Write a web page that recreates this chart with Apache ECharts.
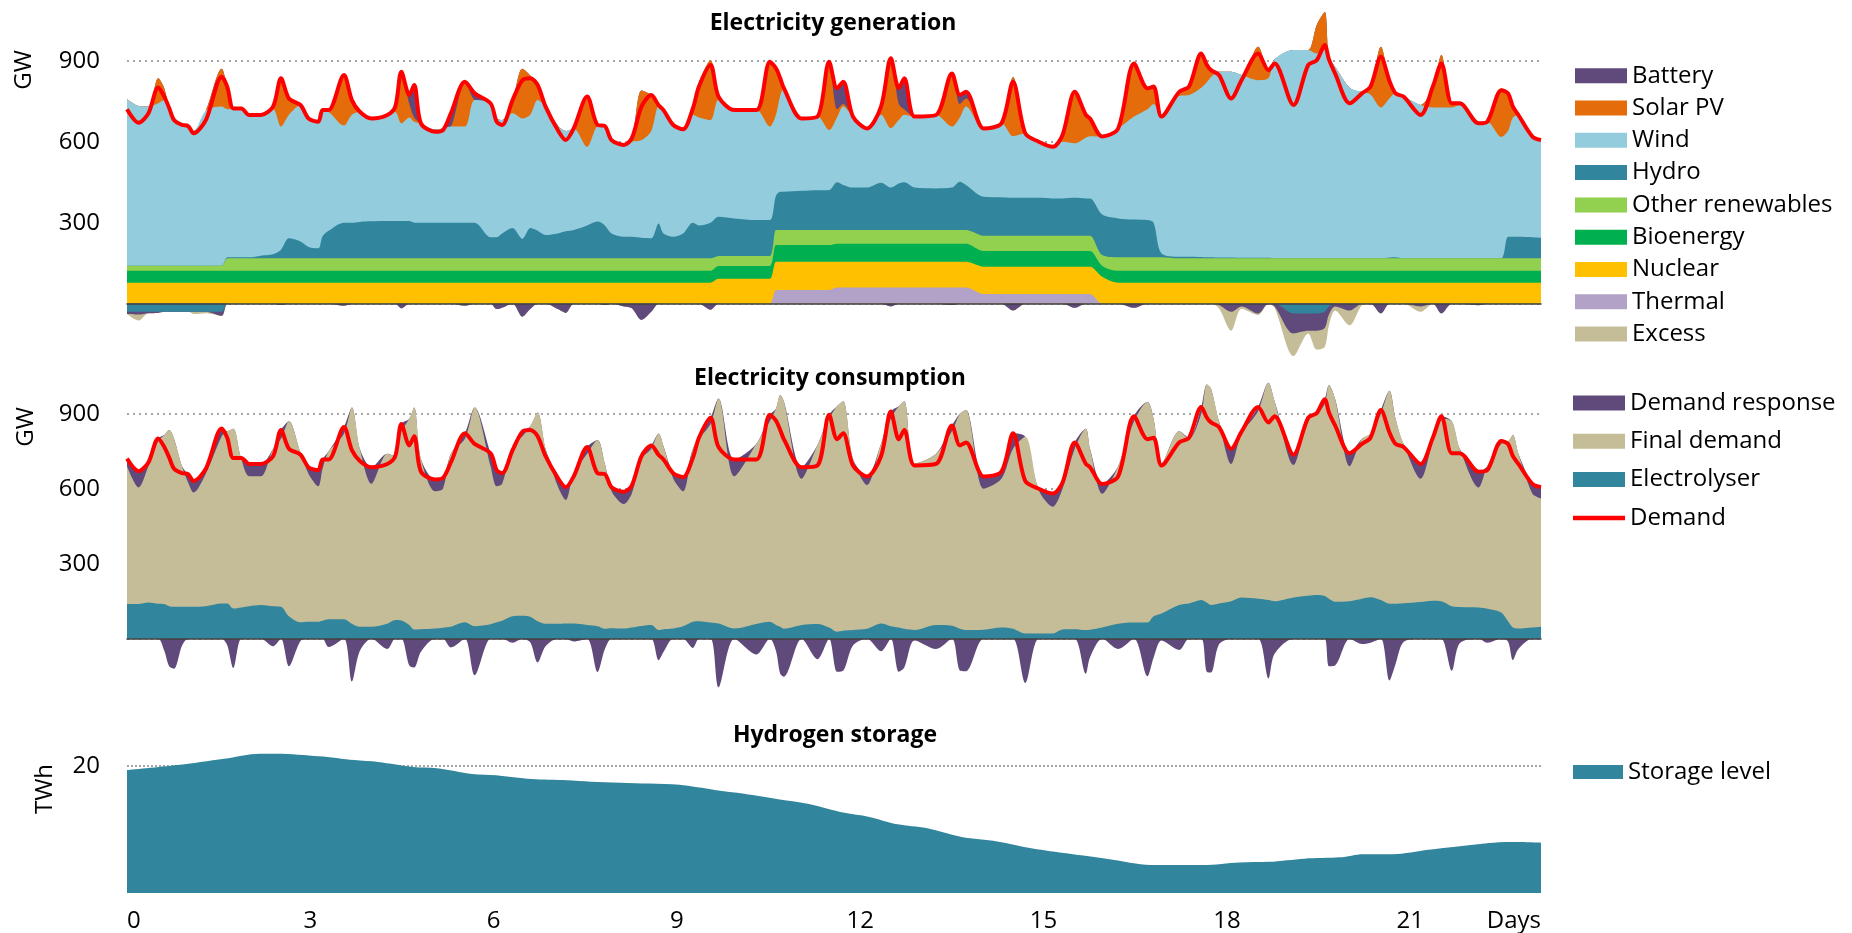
<!DOCTYPE html>
<html>
<head>
<meta charset="utf-8">
<script src="https://cdn.jsdelivr.net/npm/echarts@6/dist/echarts.min.js"></script>
<style>
  html, body { margin: 0; padding: 0; background: #fff; }
  #main { width: 1852px; height: 933px; }
</style>
</head>
<body>
<div id="main"></div>
<script>
// time axis in days, shared by the generation and consumption panels
const days = [
  0,0.19,0.35,0.51,0.61,0.69,0.77,0.9,1,1.09,
  1.29,1.55,1.64,1.74,1.87,2,2.19,2.39,2.52,2.65,
  2.84,2.97,3.13,3.2,3.3,3.55,3.68,3.81,4,4.26,
  4.39,4.49,4.62,4.7,4.81,5.04,5.17,5.3,5.53,5.69,
  5.95,6.05,6.14,6.31,6.47,6.6,6.72,6.85,7.05,7.18,
  7.31,7.53,7.7,7.82,7.93,8.13,8.26,8.42,8.58,8.7,
  8.78,8.94,9.1,9.26,9.36,9.55,9.68,9.94,10.3,10.52,
  10.62,10.69,10.75,11.04,11.3,11.49,11.62,11.72,11.88,12.11,
  12.34,12.5,12.63,12.72,12.89,13.24,13.5,13.63,13.73,14.02,
  14.31,14.5,14.7,14.92,15.15,15.31,15.51,15.69,15.76,15.96,
  16.22,16.48,16.7,16.8,16.93,17.22,17.38,17.58,17.67,17.74,
  17.87,18.07,18.24,18.51,18.68,18.78,19.09,19.33,19.47,19.6,
  19.67,19.77,20.01,20.21,20.35,20.52,20.66,20.76,20.89,21.17,
  21.37,21.51,21.68,21.81,22.12,22.26,22.49,22.6,22.68,22.77,
  23,23.14
];

// GW
const demand = [
  720,670,705,801,767,725,680,662,658,631,
  680,841,804,723,723,699,699,730,835,760,
  736,686,674,717,717,847,754,711,686,699,
  730,859,773,810,668,637,643,705,822,779,
  742,674,662,754,828,835,810,730,643,606,
  649,767,662,658,606,588,612,730,773,735,
  717,662,646,723,804,884,767,717,717,896,
  872,835,798,686,693,896,798,822,693,649,
  730,909,798,835,693,699,853,773,785,649,
  668,822,631,600,581,625,785,700,686,619,
  649,890,798,804,693,785,804,927,885,865,
  847,760,828,927,865,890,736,884,902,958,
  905,853,742,779,804,915,825,779,767,699,
  804,890,742,742,668,674,791,779,730,699,
  619,606
];

const thermal = [
  0,0,0,0,0,0,0,0,0,0, 0,0,0,0,0,0,0,0,0,0,
  0,0,0,0,0,0,0,0,0,0, 0,0,0,0,0,0,0,0,0,0,
  0,0,0,0,0,0,0,0,0,0, 0,0,0,0,0,0,0,0,0,0,
  0,0,0,0,0,0,0,0,0,0,
  51,51,51,51,51,51,60,60,60,60,
  60,60,60,60,60,60,60,60,60,36,
  36,36,36,36,36,36,36,36,36,0,
  0,0,0,0,0,0,0,0,0,0, 0,0,0,0,0,0,0,0,0,0,
  0,0,0,0,0,0,0,0,0,0, 0,0,0,0,0,0,0,0,0,0,
  0,0
];
const nuclear = [
  78,78,78,78,78,78,78,78,78,78, 78,78,78,78,78,78,78,78,78,78,
  78,78,78,78,78,78,78,78,78,78, 78,78,78,78,78,78,78,78,78,78,
  78,78,78,78,78,78,78,78,78,78, 78,78,78,78,78,78,78,78,78,78,
  78,78,78,78,78,78,92,92,92,92,
  104,104,104,104,104,104,95,95,95,95,
  95,95,95,95,95,95,95,95,95,101,
  101,101,101,101,101,101,101,101,101,100,
  78,78,78,78,78,78,78,78,78,78, 78,78,78,78,78,78,78,78,78,78,
  78,78,78,78,78,78,78,78,78,78, 78,78,78,78,78,78,78,78,78,78,
  78,78
];
const bioenergy = [
  44,44,44,44,44,44,44,44,44,44, 44,44,44,44,44,44,44,44,44,44,
  44,44,44,44,44,44,44,44,44,44, 44,44,44,44,44,44,44,44,44,44,
  44,44,44,44,44,44,44,44,44,44, 44,44,44,44,44,44,44,44,44,44,
  44,44,44,44,44,44,48,48,48,48,
  62,62,62,62,62,62,67,67,67,67,
  67,67,67,67,67,67,67,67,67,58,
  58,58,58,58,58,58,58,58,58,40,
  44,44,44,44,44,44,44,44,44,44, 44,44,44,44,44,44,44,44,44,44,
  44,44,44,44,44,44,44,44,44,44, 44,44,44,44,44,44,44,44,44,44,
  44,44
];
const otherRen = [
  19,19,19,19,19,19,19,19,19,19,
  19,19,46,46,46,46,46,46,46,46,
  46,46,46,46,46,46,46,46,46,46, 46,46,46,46,46,46,46,46,46,46,
  46,46,46,46,46,46,46,46,46,46, 46,46,46,46,46,46,46,46,46,46,
  46,46,46,46,46,46,37,37,37,37,
  56,56,56,56,56,56,51,51,51,51,
  51,51,51,51,51,51,51,51,51,57,
  57,57,57,57,57,57,57,57,57,40,
  50,50,50,50,50,46,46,46,46,46,
  46,46,46,46,46,46,46,46,46,46, 46,46,46,46,46,46,46,46,46,46,
  46,46,46,46,46,46,46,46,46,46,
  46,46
];
const hydro = [
  0,0,0,0,0,0,0,0,0,0,
  0,0,4,4,4,4,10,15,32,74,
  62,42,37,82,102,132,132,135,137,138,
  138,138,138,132,132,132,132,132,132,132,
  78,78,92,112,72,112,102,86,92,100,
  105,122,136,122,92,80,80,76,74,129,
  92,80,92,132,122,132,145,139,133,133,
  127,142,142,145,147,148,177,167,157,157,
  175,157,172,177,157,154,157,179,167,144,
  142,140,140,140,138,138,140,138,138,150,
  144,140,138,128,14,6,6,5,4,4,
  3,3,2,2,2,0,0,0,0,0,
  0,0,0,0,0,0,3,4,0,0,
  0,0,0,0,0,0,0,80,80,80,
  78,76
];
const hydroPumping = [
  -30,-30,-30,-30,-30,-30,-30,-30,-30,-30,
  -30,-30,0,0,0,0,0,0,0,0,
  0,0,0,0,0,0,0,0,0,0, 0,0,0,0,0,0,0,0,0,0,
  0,0,0,0,0,0,0,0,0,0, 0,0,0,0,0,0,0,0,0,0,
  0,0,0,0,0,0,0,0,0,0, 0,0,0,0,0,0,0,0,0,0,
  0,0,0,0,0,0,0,0,0,0, 0,0,0,0,0,0,0,0,0,0,
  0,0,0,0,0,0,0,0,0,0,
  0,0,0,0,0,0,-36,-36,-36,-30,
  -10,0,0,0,0,0,0,0,0,0,
  0,0,0,0,0,0,0,0,0,0,
  0,0
];
const wind = [
  616,591,589,601,613,584,549,527,519,499,
  574,589,548,551,551,533,527,537,456,458,
  506,476,469,467,440,360,400,408,385,393,
  404,362,384,374,368,345,350,356,356,454,
  496,440,420,425,446,420,484,476,400,372,
  376,291,352,368,346,346,352,362,398,433,
  457,414,386,400,400,380,432,401,407,346,
  300,355,383,268,273,222,240,290,263,219,
  252,220,235,250,263,272,226,238,290,253,
  274,228,239,198,190,210,202,225,230,289,
  333,381,410,440,507,596,599,627,648,668,
  688,688,677,658,665,737,772,772,759,772,
  742,710,632,617,607,559,589,608,599,568,
  559,559,559,567,506,506,450,392,442,451,
  373,362
];
const solar = [
  0,0,0,93,44,0,0,0,0,0,
  0,140,84,0,0,0,0,10,179,60,
  0,0,0,0,7,187,40,0,0,0,
  20,191,50,16,0,0,0,0,166,0,
  0,0,0,49,184,145,56,0,0,0,
  0,186,6,0,0,0,12,184,133,0,
  0,0,0,23,130,222,13,0,0,240,
  172,65,0,0,0,253,30,10,0,0,
  30,259,60,20,0,0,197,50,30,0,
  0,220,0,0,0,25,196,85,66,0,
  0,203,78,64,0,15,37,127,65,25,
  0,0,0,124,30,0,0,0,105,140,
  0,0,0,0,29,225,65,0,0,0,
  77,194,15,7,0,0,179,139,40,0,
  0,0
];
const batteryOut = [
  0,0,0,0,0,0,0,0,0,0, 0,0,0,0,0,0,0,0,0,0,
  0,0,0,0,0,0,14,0,0,0,
  0,0,33,120,0,0,0,49,0,25,
  0,0,0,0,0,0,0,0,0,0, 0,0,0,0,0,0,0,0,0,0,
  0,0,0,0,0,0,0,0,0,0,
  0,0,0,0,0,0,78,82,0,0,
  0,0,58,115,0,0,0,33,25,0,
  0,0,0,0,0,0,0,0,0,0, 0,0,0,0,0,0,0,0,0,0,
  0,0,0,0,0,0,0,0,0,0, 0,0,0,0,0,0,0,0,0,0,
  0,0,0,0,0,0,0,0,0,0,
  0,0
];
const batteryIn = [
  -8,-10,-5,-4,0,0,0,0,0,0,
  0,-15,0,0,0,0,0,0,-5,0,
  0,0,0,0,0,-8,0,0,0,0,
  0,-17,0,0,0,0,0,0,-8,0,
  0,-20,-15,0,-48,-20,0,0,-20,-34,
  0,0,0,-5,0,-10,-17,-60,-30,0,
  0,0,0,0,0,-22,0,0,0,0,
  0,0,0,0,0,0,0,0,0,0,
  0,-10,0,0,0,0,-5,0,0,0,
  0,-25,0,0,0,0,-15,0,0,0,
  0,-15,0,0,0,0,0,0,0,0,
  -5,-30,-10,-36,0,-10,-74,-64,-64,-60,
  -30,-10,-25,0,0,-36,0,0,0,-10,
  0,-36,0,0,-6,0,0,0,0,0,
  0,0
];
const excess = [
  0,-22,0,0,0,0,0,0,0,-8,
  -5,0,0,0,0,0,0,0,0,0,
  0,0,0,0,0,0,0,0,0,0, 0,0,0,0,0,0,0,0,0,0,
  0,0,0,0,0,0,0,0,0,0, 0,0,0,0,0,0,0,0,0,0,
  0,0,0,0,0,0,0,0,0,0, 0,0,0,0,0,0,0,0,0,0,
  0,0,0,0,0,0,0,0,0,0, 0,0,0,0,0,0,0,0,0,0,
  0,0,0,0,0,0,0,0,0,0,
  -12,-70,-9,-6,0,-5,-84,-10,-70,-70,
  -40,-15,-55,-6,0,0,0,0,0,-20,
  0,0,0,0,0,0,0,0,0,0,
  0,0
];

const electrolyser = [
  139,139,145,140,139,130,128,128,128,128,
  130,141,141,121,125,130,135,130,128,90,
  66,68,68,72,78,78,60,48,48,60,
  75,73,55,37,38,41,44,48,66,50,
  58,66,72,90,92,88,70,60,60,61,
  61,55,50,40,42,41,45,51,55,35,
  38,41,50,68,70,65,61,41,59,68,
  55,48,40,55,59,45,28,32,35,40,
  61,50,45,40,35,55,52,40,35,36,
  45,40,21,21,21,37,38,35,36,45,
  60,65,65,90,101,135,141,155,145,135,
  141,150,165,160,155,150,165,172,175,171,
  160,148,150,160,166,155,140,140,142,147,
  152,150,130,127,125,120,105,70,45,41,
  45,48
];
const finalDemand = [
  551,466,545,650,676,705,672,562,497,457,
  530,669,689,719,595,520,515,630,672,780,
  679,592,542,608,672,742,865,712,572,680,
  655,757,825,888,682,549,556,692,734,875,
  632,544,548,680,718,762,835,700,550,494,
  599,685,745,660,548,498,535,669,705,786,
  732,599,540,692,730,795,900,609,721,802,
  865,927,910,585,716,835,902,918,685,575,
  719,830,885,910,665,685,778,860,880,564,
  595,720,787,574,507,563,722,805,724,535,
  630,805,883,790,599,695,659,745,872,865,
  729,549,655,750,869,800,530,708,725,769,
  855,812,540,640,654,745,852,740,638,493,
  638,730,740,633,480,570,675,720,770,699,
  535,513
];
const responseUp = [
  30,65,15,11,0,0,0,0,33,46,
  20,31,0,0,3,49,49,0,35,0,
  0,26,64,37,0,27,0,0,66,0,
  0,29,0,0,0,47,43,0,22,0,
  52,64,42,0,18,0,0,0,33,51,
  0,27,0,0,16,49,32,10,13,0,
  0,22,56,0,4,24,0,67,0,26,
  0,0,0,46,0,16,0,0,0,34,
  0,29,0,0,0,0,23,0,0,49,
  28,62,0,5,53,25,25,0,0,39,
  0,20,0,0,0,0,4,27,0,0,
  0,61,8,17,0,0,41,4,2,18,
  0,0,52,0,0,15,0,0,0,59,
  14,10,0,0,63,0,11,0,0,0,
  39,45
];
const responseDown = [
  0,0,0,0,-48,-110,-120,-28,0,0,
  0,0,-26,-117,0,0,0,-30,0,-110,
  -9,0,0,0,-33,0,-171,-49,0,-41,
  0,0,-107,-115,-52,0,0,-35,0,-146,
  0,0,0,-16,0,-15,-95,-30,0,0,
  -11,0,-133,-42,0,0,0,0,0,-86,
  -53,0,0,-37,0,0,-194,0,-63,0,
  -48,-140,-152,0,-82,0,-132,-128,-27,0,
  -50,0,-132,-115,-7,-41,0,-127,-130,0,
  0,0,-177,0,0,0,0,-140,-74,0,
  -41,0,-150,-76,-7,-45,0,0,-132,-135,
  -23,0,0,0,-159,-60,0,0,0,0,
  -110,-107,0,-21,-16,0,-167,-101,-13,0,
  0,0,-128,-18,0,-16,0,-11,-85,-41,
  0,0
];

// TWh
const storageDays = [
  0,0.82,1.59,2.17,2.46,3.14,3.72,4.11,4.69,5.07,
  5.65,6.04,6.62,7.2,7.59,8.55,9.04,9.62,10.1,10.68,
  11.16,11.74,12.13,12.61,13.08,13.66,14.24,14.82,15.4,16.08,
  16.75,17.14,17.62,18.2,18.69,19.27,19.85,20.23,20.72,21.3,
  21.78,22.36,22.75,23.14
];
const storage = [
  19.3,20.1,21.1,21.9,21.9,21.5,20.9,20.6,19.8,19.6,
  18.7,18.5,17.9,17.7,17.5,17.2,17.0,16.2,15.6,14.7,
  14.0,12.6,12.0,10.8,10.2,8.8,8.1,7.0,6.2,5.3,
  4.4,4.4,4.4,4.8,4.9,5.4,5.6,6.1,6.1,6.8,
  7.3,7.9,8.0,7.9
];

const dayTicks = [0, 3, 6, 9, 12, 15, 18, 21];
const gwTicks = [300, 600, 900];
const twhTicks = [20];

const FONT = 'Open Sans';
const SMOOTH = 0.3;

// Layers are listed from the zero line outwards. Each one is drawn as an area
// from zero to its running total, outermost first, so the inner ones paint over.
function layered(layers, idx) {
  const run = days.map(() => 0);
  const built = layers.map(l => ({
    l: l,
    tops: l.vals.map((v, i) => (run[i] += v))
  }));
  return built.reverse().map(b => ({
    name: b.l.name, type: 'line', xAxisIndex: idx, yAxisIndex: idx,
    data: b.tops.map((t, i) => [days[i], t]), smooth: SMOOTH, symbol: 'none',
    lineStyle: { width: 0 }, areaStyle: { color: b.l.color, opacity: 1 },
    itemStyle: { color: b.l.color }, emphasis: { disabled: true }
  }));
}
function demandLine(idx) {
  return {
    name: 'Demand', type: 'line', xAxisIndex: idx, yAxisIndex: idx,
    data: demand.map((v, i) => [days[i], v]), smooth: SMOOTH, symbol: 'none', z: 5,
    lineStyle: { color: '#FF0000', width: 4 }, itemStyle: { color: '#FF0000' },
    emphasis: { disabled: true }
  };
}

const gridLine = dash => ({
  show: true, showMinLine: false, showMaxLine: false,
  lineStyle: { color: '#A6A6A6', width: 2, type: dash }
});
function gwAxis(idx) {
  return {
    gridIndex: idx, type: 'value', min: -300, max: 1100, interval: 300,
    axisLine: { show: false }, axisTick: { show: false },
    axisLabel: {
      fontFamily: FONT, fontSize: 24, color: '#000', margin: 27,
      formatter: v => gwTicks.includes(v) ? String(v) : ''
    },
    splitLine: gridLine([2, 4])
  };
}
function dayAxis(idx, labels) {
  return {
    gridIndex: idx, type: 'value', min: 0, max: 23.14, interval: 3, z: 10,
    axisLine: { show: !labels, onZero: true, lineStyle: { color: '#404040', width: 1.5 } },
    axisTick: { show: false }, splitLine: { show: false },
    axisLabel: labels ? {
      fontFamily: FONT, fontSize: 24, color: '#000', margin: 16, alignMinLabel: 'left',
      formatter: v => dayTicks.includes(v) ? String(v) : ''
    } : { show: false },
    name: labels ? 'Days' : '', nameLocation: 'end', nameGap: 0,
    nameTextStyle: { fontFamily: FONT, fontSize: 24, color: '#000', align: 'right', verticalAlign: 'top', padding: [16, 0, 0, 0] }
  };
}
const titleStyle = { fontFamily: FONT, fontWeight: 'bold', fontSize: 23, color: '#000' };
const legendText = { fontFamily: FONT, fontSize: 24, color: '#000', lineHeight: 24 };
const sideLabel = (text, x, y) => ({
  type: 'text', x: x, y: y, rotation: Math.PI / 2,
  style: { text: text, fontFamily: FONT, fontSize: 24, fill: '#000', align: 'center', verticalAlign: 'middle' }
});

const genUp = layered([
  { name: 'Thermal', vals: thermal, color: '#B3A2C7' },
  { name: 'Nuclear', vals: nuclear, color: '#FFC000' },
  { name: 'Bioenergy', vals: bioenergy, color: '#00B050' },
  { name: 'Other renewables', vals: otherRen, color: '#92D050' },
  { name: 'Hydro', vals: hydro, color: '#31859C' },
  { name: 'Wind', vals: wind, color: '#93CDDD' },
  { name: 'Solar PV', vals: solar, color: '#E46C0A' },
  { name: 'Battery', vals: batteryOut, color: '#604A7B' }
], 0);
const genDown = layered([
  { name: 'Hydro', vals: hydroPumping, color: '#31859C' },
  { name: 'Battery', vals: batteryIn, color: '#604A7B' },
  { name: 'Excess', vals: excess, color: '#C4BD97' }
], 0);
const consUp = layered([
  { name: 'Electrolyser', vals: electrolyser, color: '#31859C' },
  { name: 'Final demand', vals: finalDemand, color: '#C4BD97' },
  { name: 'Demand response', vals: responseUp, color: '#604A7B' }
], 1);
const consDown = layered([
  { name: 'Demand response', vals: responseDown, color: '#604A7B' }
], 1);

const chart = echarts.init(document.getElementById('main'));
chart.setOption({
  animation: false,
  backgroundColor: '#fff',
  title: [
    { text: 'Electricity generation', left: 833, top: 12, textAlign: 'center', padding: 0, textStyle: titleStyle },
    { text: 'Electricity consumption', left: 830, top: 366.5, textAlign: 'center', padding: 0, textStyle: titleStyle },
    { text: 'Hydrogen storage', left: 835, top: 723.5, textAlign: 'center', padding: 0, textStyle: titleStyle }
  ],
  graphic: [sideLabel('GW', 24, 70), sideLabel('GW', 26, 427), sideLabel('TWh', 45, 789)],
  grid: [
    { left: 127, width: 1414, top: 6.7, height: 378 },
    { left: 127, width: 1414, top: 363.7, height: 350 },
    { left: 127, width: 1414, top: 753, height: 140 }
  ],
  xAxis: [dayAxis(0, false), dayAxis(1, false), dayAxis(2, true)],
  yAxis: [
    gwAxis(0), gwAxis(1),
    {
      gridIndex: 2, type: 'value', min: 0, max: 22, interval: 20,
      axisLine: { show: false }, axisTick: { show: false },
      axisLabel: {
        fontFamily: FONT, fontSize: 24, color: '#000', margin: 27,
        formatter: v => twhTicks.includes(v) ? String(v) : ''
      },
      splitLine: gridLine([2, 2])
    }
  ],
  legend: [
    {
      orient: 'vertical', left: 1570, top: 58.7, itemWidth: 52, itemHeight: 15, itemGap: 8.3,
      icon: 'rect', selectedMode: false, textStyle: legendText,
      data: ['Battery', 'Solar PV', 'Wind', 'Hydro', 'Other renewables', 'Bioenergy', 'Nuclear', 'Thermal', 'Excess']
    },
    {
      orient: 'vertical', left: 1568, top: 386, itemWidth: 52, itemHeight: 15, itemGap: 14.3,
      selectedMode: false, textStyle: legendText,
      data: [
        { name: 'Demand response', icon: 'rect' },
        { name: 'Final demand', icon: 'rect' },
        { name: 'Electrolyser', icon: 'rect' },
        { name: 'Demand', icon: 'path://M0,0L52,0L52,4.5L0,4.5Z' }
      ]
    },
    {
      orient: 'vertical', left: 1568, top: 755, itemWidth: 50, itemHeight: 14,
      icon: 'rect', selectedMode: false, textStyle: legendText,
      data: ['Storage level']
    }
  ],
  series: [].concat(
    genUp, genDown, [demandLine(0)],
    consUp, consDown, [demandLine(1)],
    [{
      name: 'Storage level', type: 'line', xAxisIndex: 2, yAxisIndex: 2,
      data: storageDays.map((d, i) => [d, storage[i]]), smooth: SMOOTH, symbol: 'none',
      lineStyle: { width: 0 }, areaStyle: { color: '#31859C', opacity: 1 },
      itemStyle: { color: '#31859C' }, emphasis: { disabled: true }
    }]
  )
});
</script>
</body>
</html>
